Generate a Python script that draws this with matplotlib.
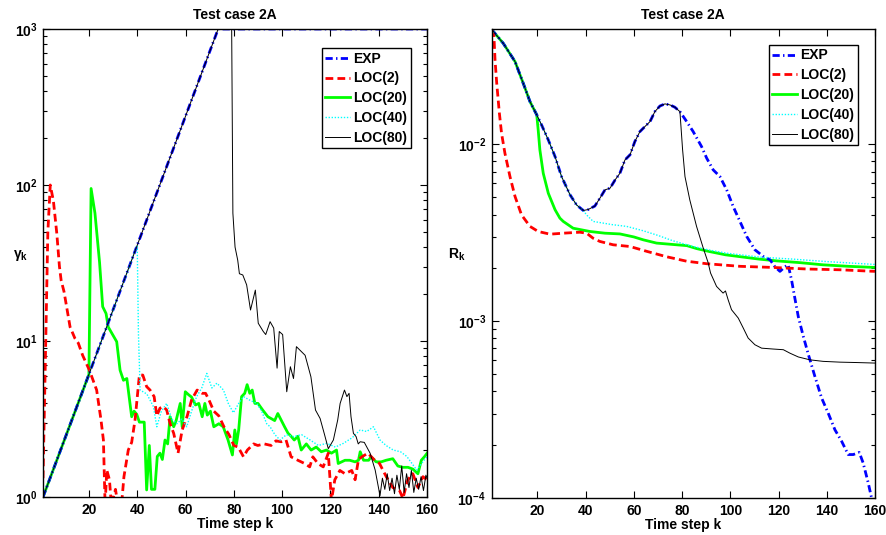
import numpy as np
import matplotlib
matplotlib.use("Agg")
import matplotlib.pyplot as plt
from matplotlib.ticker import FixedLocator, NullFormatter, FixedFormatter, NullLocator

plt.rcParams['font.family'] = ['Liberation Sans', 'DejaVu Sans']
plt.rcParams['font.weight'] = 'bold'
plt.rcParams['mathtext.fontset'] = 'custom'
plt.rcParams['mathtext.rm'] = 'Liberation Sans:bold'
plt.rcParams['mathtext.bf'] = 'Liberation Sans:bold'
plt.rcParams['mathtext.it'] = 'Liberation Sans:bold'

labels = ["EXP", "LOC(2)", "LOC(20)", "LOC(40)", "LOC(80)"]
colors = ["#0000ff", "#ff0000", "#00ff00", "#00ffff", "#000000"]
x_ticks = [20, 40, 60, 80, 100, 120, 140, 160]

# ---------------- Left panel: gamma_k ----------------
expL_k = [1, 73.5, 160]
expL_v = [1.0, 1000, 1000]

loc2L_k = [1, 2, 3, 4, 5.3, 6.7, 7.8, 8.5, 9.7, 12.2, 14.2, 15.6, 17.4, 20.2, 23.2, 25, 26,
           26.7, 27.4, 28.5, 29.3, 31, 32, 33.5, 34.5, 36.3, 37.7, 39.1, 40.9, 42.3, 43.9,
           45.3, 47, 48.1, 49.4, 50.8, 52.2, 53.6, 55.1, 56.9, 58.6, 60.7, 62.5, 64.8, 66.9,
           68.3, 69.7, 71.7, 73.8, 75.9, 78, 80, 81.8, 84, 85.6, 88.2, 89.9, 92.6, 95.4, 97.4,
           99.6, 101.6, 103.7, 106.5, 109.3, 111.4, 112.7, 114.8, 117, 119.1, 120.4, 121.8,
           123.9, 126, 128.8, 130.2, 131.6, 133, 135.5, 138, 140.3, 143.1, 145.8, 148.6, 150,
           152, 154.1, 156.2, 158.3, 160]
loc2L_v = [1.32, 7.9, 50, 100, 79, 49, 30, 24.5, 20.7, 12.3, 10.4, 9.7, 8.1, 6.5, 4.85, 3.12, 2.32,
           0.89, 1.49, 1.29, 0.89, 1.12, 0.89, 0.89, 1.35, 2.0, 2.24, 3.12, 6.05, 6.05, 5.1,
           4.85, 4.4, 3.31, 3.71, 3.8, 3.61, 2.95, 2.56, 1.91, 2.69, 3.31, 4.19, 4.85, 4.62,
           4.62, 4.19, 3.55, 3.31, 2.82, 2.51, 2.14, 2.09, 1.81, 2.0, 2.19, 2.14, 2.19, 2.14, 2.29,
           2.26, 2.32, 1.81, 1.72, 1.64, 1.56, 1.81, 1.64, 1.56, 1.91, 0.95, 1.29,
           1.48, 1.41, 1.48, 1.29, 1.74, 1.81, 1.91, 1.74, 1.64, 1.35, 1.15, 1.10, 0.98,
           1.29, 1.41, 1.15, 1.35, 1.29]

loc20L_k = [1, 20, 20.9, 22.5, 24.4, 25.7, 27.1, 28, 31.5, 32.9, 34.3, 35.7, 36.3, 37.7, 38.7,
            39.8, 40.9, 42.9, 43.9, 45, 45.9, 47.3, 48.3, 49.4, 50.4, 51.5, 52.6, 53.6, 55.1,
            56.1, 57.8, 58.6, 59.9, 61.3, 62.5, 64.1, 65.5, 66.9, 68, 69, 70.3, 71.7, 73.8, 75.6,
            77.6, 79.4, 80.4, 81.1, 82, 83.2, 84.5, 85.5, 86.6, 87.6, 88.7, 90, 92, 94.1, 96.9,
            98.2, 101, 102.4, 103.7, 105, 106.5, 107.9, 110, 112, 114.1, 116.2, 118.3, 120.4,
            122.5, 123.2, 126, 128, 130.2, 131.6, 132.3, 133.7, 135.8, 136.8, 138.9, 141, 143,
            145.8, 147.9, 150, 152.1, 154.1, 156.2, 157.6, 159, 160]
loc20L_v = [1.0, 6.1, 95, 66, 32, 16.6, 15, 12.3, 9.9, 6.5, 5.6, 5.75, 4.85, 3.27, 3.55,
            3.39, 3.02, 3.02, 1.11, 2.14, 1.12, 1.12, 1.82, 1.91, 1.74, 2.32, 2.19, 3.27, 2.82,
            3.09, 3.98, 2.82, 4.73, 4.52, 4.37, 3.89, 3.98, 3.27, 3.98, 3.35, 3.55, 2.82, 2.95, 2.82,
            2.32, 1.86, 2.69, 2.19, 2.69, 4.4, 4.62, 5.25, 4.62, 4.85, 3.98, 3.98, 3.6, 3.27, 3.09,
            3.43, 2.82, 2.57, 2.45, 2.32, 2.45, 2.0, 2.19, 2.0, 2.09, 1.95, 2.0, 1.91,
            2.0, 1.64, 1.72, 1.72, 1.68, 1.72, 1.95, 1.72, 1.72, 1.81, 1.68, 1.68, 1.72,
            1.76, 1.58, 1.55, 1.55, 1.51, 1.41, 1.72, 1.82, 1.91]

loc40L_k = [1, 40, 40.5, 41.2, 44, 46.7, 48.1, 50, 52.2, 54.3, 56.4, 58.5, 60.5, 62.5, 64.6,
            66.7, 68.8, 70.9, 73, 75.7, 77.7, 79.8, 82, 84, 86.7, 89.5, 91.5, 93.6, 95, 97, 99.1,
            101.8, 104.6, 108, 111.6, 115, 118.5, 122, 125.4, 129, 132.3, 135, 137.8, 140.5,
            143, 146, 149, 151.6, 153.5, 155.7, 158, 160]
loc40L_v = [1.0, 41, 11.2, 4.85, 4.57, 3.8, 2.82, 3.55, 3.98, 3.16, 2.95, 3.16, 2.82, 3.55, 4.4,
            5.0, 6.2, 5.0, 5.37, 4.85, 3.98, 3.47, 3.98, 4.4, 4.17, 3.98, 3.55, 2.95, 2.82, 2.51, 2.32,
            2.51, 2.44, 2.51, 2.32, 2.14, 2.21, 2.09, 2.21, 2.4, 2.69, 2.63, 2.82, 2.32,
            2.14, 2.0, 1.95, 1.82, 1.66, 1.49, 1.66, 1.82]

loc80L_k = [1, 73.5, 79.1, 79.6, 80.5, 81.6, 82.3, 83.7, 85.3, 86.9, 88.9, 90.1, 92.2, 93.2, 95,
            96.5, 97.9, 98.8, 100.2, 101.9, 103.4, 104.7, 105.9, 109.5, 111.9, 113.8, 115.7,
            117.4, 119.1, 121.2, 123, 124, 125.8, 126.8, 127.7, 128.5, 129.5, 130.6, 131.5,
            132.3, 134, 136.4, 138.5, 140.5, 141.5, 142.5, 143.5, 144.5, 145.5, 146.5, 147.5,
            148.5, 149.5, 150.5, 151.5, 152.5, 153.5, 154.5, 155.5, 156.5, 157.5, 158.5, 159.5, 160]
loc80L_v = [1.0, 1000, 1000, 66, 40, 33, 27, 26.5, 22.9, 15.8, 21.2, 13, 11.5, 11, 13.3,
            12.1, 6.7, 11.5, 11, 4.73, 6.84, 5.75, 9.2, 8.1, 5.9, 3.61, 3.19,
            2.56, 2.04, 2.32, 3.12, 3.98, 4.85, 4.4, 4.62, 3.27, 2.56, 2.44, 2.19,
            2.26, 2.24, 1.91, 1.49, 1.02, 1.32, 1.12, 1.41, 1.10, 1.32, 1.05, 1.38,
            1.12, 1.58, 1.07, 1.41, 1.15, 1.48, 1.07, 1.32, 1.12, 1.35, 1.10, 1.38, 1.32]

# ---------------- Right panel: R_k ----------------
expR_k = [1, 5.8, 10.7, 14.1, 16.9, 19.7, 21.7, 24.5, 27.3, 30, 33.5, 36.2, 39, 41, 43.8, 45.9,
          48, 50.1, 52.2, 54.2, 56.3, 58.4, 60.4, 62.5, 64.6, 66.7, 68.7, 70.8, 72.9, 75, 77,
          79.1, 81.9, 84.6, 88.1, 90.2, 92.9, 95.7, 98.5, 101.2, 104, 106.8, 110.2, 113.7,
          116.5, 118.5, 120.6, 122.7, 124, 125.4, 126.9, 128.2, 130.3, 132.4, 135.1, 137.9,
          140.6, 143.4, 146.2, 148.9, 151, 153.5, 155.1, 157.2, 158.6, 160]
expR_v = [0.0445, 0.0372, 0.0293, 0.0221, 0.0174, 0.01466, 0.01285, 0.01057, 0.00851, 0.00656,
          0.00518, 0.00454, 0.00422, 0.00427, 0.00447, 0.00495, 0.00552, 0.00564, 0.00628,
          0.00685, 0.00815, 0.00871, 0.01035, 0.01178, 0.01259, 0.01343, 0.01528, 0.01644,
          0.0169, 0.01667, 0.01618, 0.01528, 0.01343, 0.01178, 0.00968, 0.00834, 0.00716,
          0.00656, 0.00552, 0.00444, 0.00366, 0.00301, 0.00253, 0.00232, 0.00222, 0.00203,
          0.00191, 0.00203, 0.00208, 0.00171, 0.00132, 0.00106, 0.000818, 0.000646, 0.000486,
          0.000367, 0.000302, 0.000243, 0.000209, 0.000176, 0.000176, 0.000181, 0.000158,
          0.000122, 0.0001, 0.00008]

loc2R_k = [1, 1.95, 2.4, 3.1, 4.2, 5.1, 6.5, 8.6, 10.7, 13.4, 16.9, 20.3, 25.2, 30.7, 37.6,
           40.4, 43.1, 45.9, 51.4, 58.4, 65.3, 73.6, 81.9, 90.2, 104, 117.8, 131.7, 145.5, 160]
loc2R_v = [0.0445, 0.0406, 0.0299, 0.0221, 0.01496, 0.01153, 0.00889, 0.00656, 0.00506,
           0.00398, 0.00343, 0.00321, 0.0031, 0.00314, 0.00318, 0.00314, 0.00294, 0.00282,
           0.0027, 0.00264, 0.00248, 0.00231, 0.00218, 0.00211, 0.00204, 0.00201, 0.00197,
           0.00195, 0.00191]

# LOC(20), LOC(40), LOC(80) follow EXP until they branch off
loc20R_start = 19.7
loc20R_k = [20.3, 21, 22.4, 24.5, 27.3, 29.3, 30.7, 34.8, 41.8, 48, 54.2, 60, 63.9, 69.4, 77.7,
            82, 86, 91.5, 98, 105.4, 112, 119.2, 128.9, 138.5, 149, 160]
loc20R_v = [0.01205, 0.00929, 0.00685, 0.00528, 0.00426, 0.00382, 0.00366, 0.00335, 0.00321,
            0.00314, 0.00311, 0.00299, 0.00288, 0.00276, 0.0027, 0.00267, 0.00257, 0.00247,
            0.00237, 0.0023, 0.00224, 0.00219, 0.00214, 0.00208, 0.00204, 0.00201]

loc40R_start = 39
loc40R_k = [40.4, 43.1, 51, 57, 63.9, 70, 76, 84.6, 92, 98.5, 112.3, 126.1, 140, 160]
loc40R_v = [0.00398, 0.00366, 0.00351, 0.00343, 0.00324, 0.00305, 0.00285, 0.00264, 0.00251,
            0.00242, 0.0023, 0.00224, 0.00217, 0.00209]

loc80R_start = 79.1
loc80R_k = [80.2, 81.2, 83.2, 86, 88.8, 90.8, 91.8, 94.3, 97, 98, 99.1, 100.5, 103.3, 105.4,
            107.4, 110.2, 113, 117.8, 122, 124.7, 128.2, 133, 138.5, 145.5, 152.4, 160]
loc80R_v = [0.00933, 0.00656, 0.00484, 0.00343, 0.00258, 0.00214, 0.00187, 0.00157, 0.00144,
            0.00148, 0.00132, 0.00116, 0.00104, 0.000912, 0.000802, 0.000735, 0.000703,
            0.000695, 0.000689, 0.000659, 0.000627, 0.000604, 0.000592, 0.000586, 0.000583,
            0.000579]


def branch(start, k_tail, v_tail):
    ek = np.array(expR_k)
    ev = np.array(expR_v)
    m = ek <= start
    return np.concatenate([ek[m], k_tail]), np.concatenate([ev[m], v_tail])


styles = [
    dict(color=colors[0], lw=2.0, dashes=(2.6, 1.2, 0.5, 1.2), zorder=2.1),
    dict(color=colors[1], lw=2.0, dashes=(2.8, 1.5), zorder=2.2),
    dict(color=colors[2], lw=2.0, linestyle='-', zorder=2.0),
    dict(color=colors[3], lw=1.0, dashes=(1, 1.2), zorder=2.3),
    dict(color=colors[4], lw=0.7, linestyle='-', zorder=2.4),
]

fig = plt.figure(figsize=(8.87, 5.35), dpi=100)
axL = fig.add_axes([0.0485, 0.0710, 0.4330, 0.8748])
axR = fig.add_axes([0.5543, 0.0692, 0.4321, 0.8766])

left_series = [(expL_k, expL_v), (loc2L_k, loc2L_v), (loc20L_k, loc20L_v),
               (loc40L_k, loc40L_v), (loc80L_k, loc80L_v)]
right_series = [(expR_k, expR_v), (loc2R_k, loc2R_v),
                branch(loc20R_start, loc20R_k, loc20R_v),
                branch(loc40R_start, loc40R_k, loc40R_v),
                branch(loc80R_start, loc80R_k, loc80R_v)]

for ax, series in [(axL, left_series), (axR, right_series)]:
    for (k, v), st, lab in zip(series, styles, labels):
        ax.plot(k, v, label=lab, **st)

def style_axes(ax, ylim, yticks, ylabel, ylab_x):
    ax.set_yscale('log')
    ax.set_xlim(1, 160)
    ax.set_ylim(*ylim)
    ax.xaxis.set_major_locator(FixedLocator(x_ticks))
    ax.xaxis.set_minor_locator(NullLocator())
    ax.set_xticklabels([str(t) for t in x_ticks])
    ax.yaxis.set_major_locator(FixedLocator(yticks))
    ax.yaxis.set_major_formatter(FixedFormatter(
        [r'$\mathbf{10^{%d}}$' % int(round(np.log10(t))) for t in yticks]))
    minors = []
    for t in yticks[:-1]:
        minors += [t * m for m in range(2, 10)]
    ax.yaxis.set_minor_locator(FixedLocator(minors))
    ax.yaxis.set_minor_formatter(NullFormatter())
    ax.tick_params(which='both', direction='in', top=True, right=True, width=0.8,
                   labelsize=10, pad=4)
    ax.tick_params(which='major', length=5)
    ax.tick_params(which='minor', length=3)
    for lab in ax.get_xticklabels():
        lab.set_fontweight('bold')
    for s in ax.spines.values():
        s.set_linewidth(1.0)
    ax.set_title('Test case 2A', fontsize=10, fontweight='bold', pad=7)
    ax.set_xlabel('Time step k', fontsize=10, fontweight='bold', labelpad=0)
    ax.set_ylabel(ylabel, rotation=0, fontsize=10, fontweight='bold')
    ax.yaxis.set_label_coords(ylab_x, 0.5)


style_axes(axL, (1, 1000), [1, 10, 100, 1000], r'$\mathregular{\gamma_k}$', -0.057)
style_axes(axR, (1e-4, 0.0448), [1e-4, 1e-3, 1e-2], r'$\mathbf{R_k}$', -0.09)

for ax, anchor in [(axL, (0.958, 0.959)), (axR, (0.956, 0.966))]:
    leg = ax.legend(loc='upper right', bbox_to_anchor=anchor, fontsize=10, frameon=True,
                    fancybox=False, edgecolor='black', framealpha=1, borderpad=0.25,
                    labelspacing=0.42, handlelength=1.8, handletextpad=0.25,
                    borderaxespad=0)
    leg.get_frame().set_linewidth(1.0)
    for t in leg.get_texts():
        t.set_fontweight('bold')

fig.savefig('out.png', dpi=100)
